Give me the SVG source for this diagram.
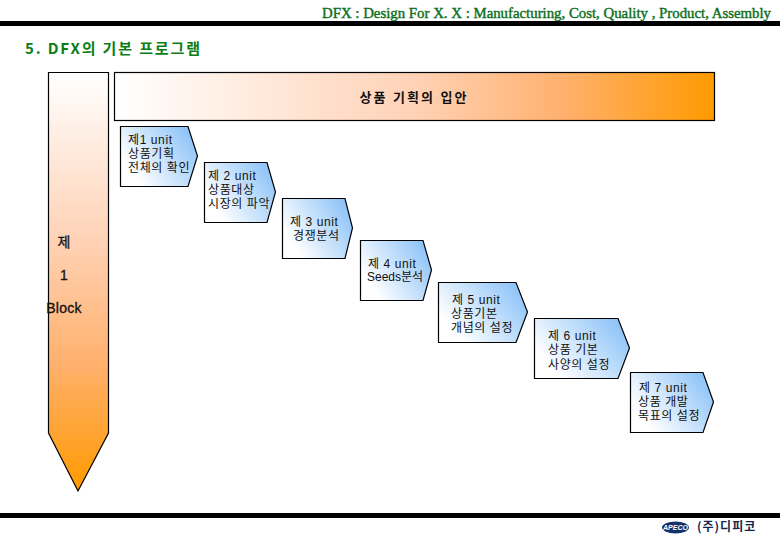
<svg xmlns="http://www.w3.org/2000/svg" width="780" height="540" viewBox="0 0 780 540">
<style>
.k{font-family:"Liberation Sans","Noto Sans CJK KR",sans-serif;font-size:12px;letter-spacing:.6px;fill:#111}
.t{font-size:14px;letter-spacing:0;stroke:#111;stroke-width:.3px}
.n{fill:url(#blue);stroke:#000;stroke-width:1.2}
.b{fill:#000;stroke:none}
</style>
<defs>
<linearGradient id="blue" x1="0" y1="0.85" x2="1" y2="0.3"><stop offset="0.15" stop-color="#fff"/><stop offset="1" stop-color="#8fc4f8"/></linearGradient>
<linearGradient id="h"><stop offset="0" stop-color="#fff"/><stop offset="0.5" stop-color="#ffd2b6"/><stop offset="0.75" stop-color="#ffb06c"/><stop offset="1" stop-color="#ff9a00"/></linearGradient>
<linearGradient id="v" x1="0" y1="0" x2="0" y2="1"><stop offset="0" stop-color="#fff"/><stop offset="0.4" stop-color="#ffd2b6"/><stop offset="0.7" stop-color="#ffb06c"/><stop offset="1" stop-color="#ff9a00"/></linearGradient>
</defs>
<rect id="top-rule" class="b" x="0" y="21" width="780" height="5"/>
<rect id="bottom-rule" class="b" x="0" y="513" width="780" height="5"/>
<text x="322" y="17.500" font-family="Liberation Serif,serif" font-size="14.500" fill="#0c6e20" stroke="#0c6e20" stroke-width=".4" textLength="449" lengthAdjust="spacingAndGlyphs">DFX : Design For X. X : Manufacturing, Cost, Quality , Product, Assembly</text>
<text x="25" y="54" font-family="Noto Sans CJK KR,sans-serif" font-size="15" font-weight="bold" fill="#0a7d14" textLength="175" lengthAdjust="spacing">5. DFX의 기본 프로그램</text>
<g id="block-1">
<path d="M48.500 72.500H108.500V433L78 491L48.500 433Z" fill="url(#v)" stroke="#000" stroke-width="1.200"/>
<text class="k t" x="64" y="247" text-anchor="middle">제</text>
<text class="k t" x="64" y="280" text-anchor="middle">1</text>
<text class="k t" x="64" y="313" text-anchor="middle" style="letter-spacing:.3px">Block</text>
</g>
<g id="planning-input">
<rect x="114.500" y="72.500" width="600" height="48" fill="url(#h)" stroke="#000" stroke-width="1.200"/>
<text class="k" x="414" y="102" text-anchor="middle" font-weight="bold" style="font-size:13px;letter-spacing:2px">상품 기획의 입안</text>
</g>
<g id="unit-1"><path class="n" d="M120.500 126.500H188L197.500 156L188 186.500H120.500Z"/><text class="k" x="128" y="144">제1 unit</text><text class="k" x="128" y="158">상품기획</text><text class="k" x="128" y="172">전체의 확인</text></g>
<g id="unit-2"><path class="n" d="M204.500 162.500H267L275.500 192L267 222.500H204.500Z"/><text class="k" x="208" y="180">제 2 unit</text><text class="k" x="208" y="194">상품대상</text><text class="k" x="208" y="208">시장의 파악</text></g>
<g id="unit-3"><path class="n" d="M282.500 198.500H345L352.500 228L345 258.500H282.500Z"/><text class="k" x="290" y="226">제 3 unit</text><text class="k" x="293" y="240">경쟁분석</text></g>
<g id="unit-4"><path class="n" d="M360.500 240.500H423L431.500 270L423 300.500H360.500Z"/><text class="k" x="368" y="268">제 4 unit</text><text class="k" x="367" y="281" style="letter-spacing:0">Seeds분석</text></g>
<g id="unit-5"><path class="n" d="M438.500 282.500H516L527.500 312L516 342.500H438.500Z"/><text class="k" x="452" y="304">제 5 unit</text><text class="k" x="451" y="318">상품기본</text><text class="k" x="451" y="332">개념의 설정</text></g>
<g id="unit-6"><path class="n" d="M534.500 318.500H618L629.500 348L618 378.500H534.500Z"/><text class="k" x="548" y="340">제 6 unit</text><text class="k" x="548" y="354">상품 기본</text><text class="k" x="548" y="369">사양의 설정</text></g>
<g id="unit-7"><path class="n" d="M630.500 372.500H703L713.500 402L703 432.500H630.500Z"/><text class="k" x="639" y="392">제 7 unit</text><text class="k" x="638" y="406">상품 개발</text><text class="k" x="638" y="420">목표의 설정</text></g>
<g id="logo">
<ellipse cx="675.500" cy="527.500" rx="13.500" ry="6" fill="#14316b"/>
<text x="675.500" y="530" text-anchor="middle" font-family="Liberation Sans,sans-serif" font-size="7" font-weight="bold" font-style="italic" fill="#fff">APECO</text>
<text x="697" y="531" font-family="Noto Sans CJK KR,sans-serif" font-size="12" font-weight="bold" fill="#14264f" letter-spacing="1">(주)디피코</text>
</g>
</svg>
